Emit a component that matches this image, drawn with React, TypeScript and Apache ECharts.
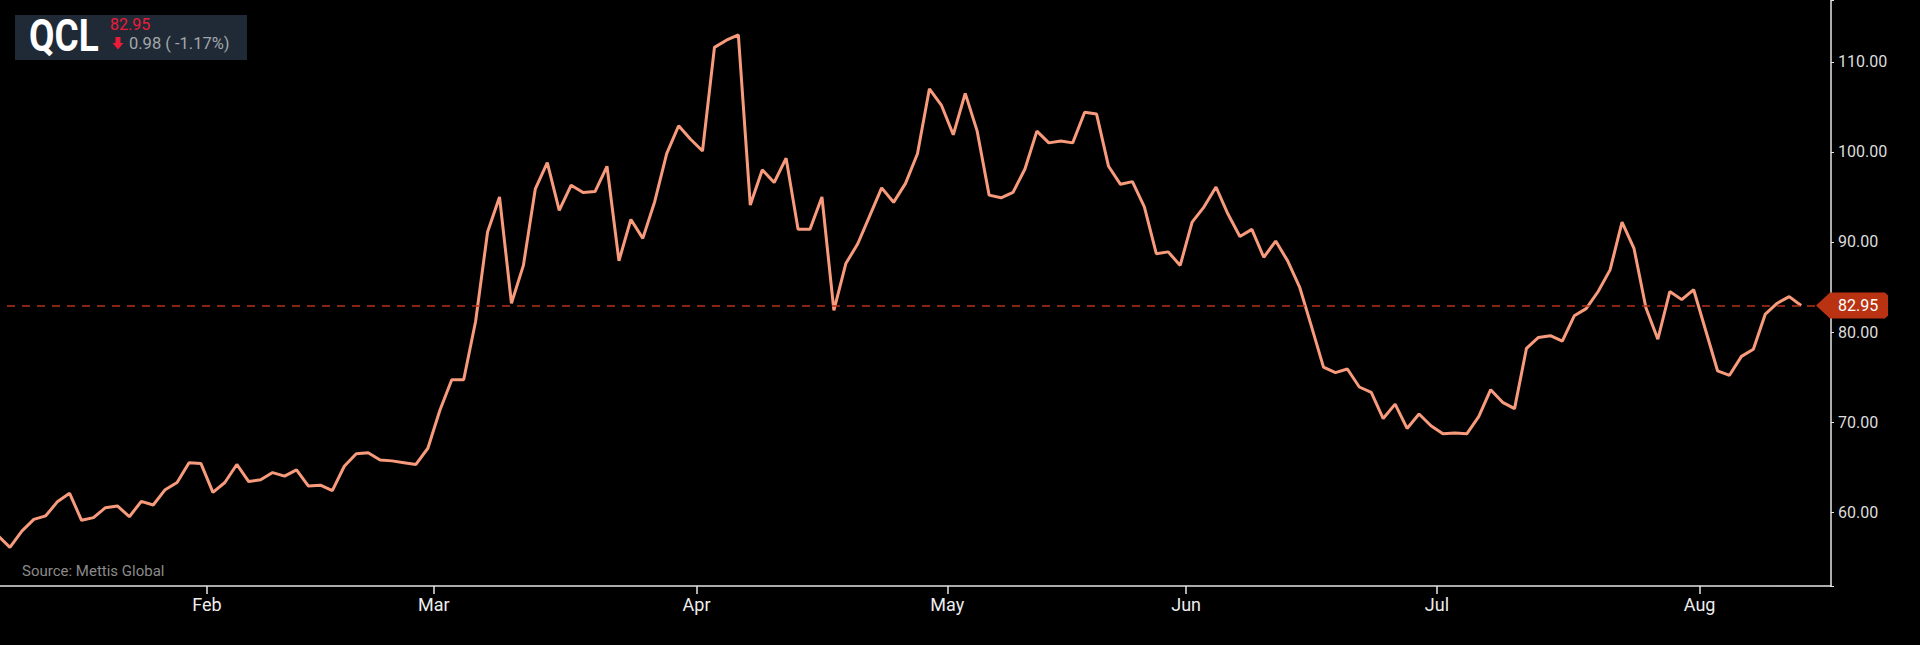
import React, { useEffect, useRef } from 'react';
import * as echarts from 'echarts';

// Trading days per month (the last two August days are empty padding on the right)
const TRADING_DAYS: [string, number[]][] = [
  ['2021-01', [6, 7, 8, 11, 12, 13, 14, 15, 18, 19, 20, 21, 22, 25, 26, 27, 28, 29]],
  ['2021-02', [1, 2, 3, 4, 5, 8, 9, 10, 11, 12, 16, 17, 18, 19, 22, 23, 24, 25, 26]],
  ['2021-03', [1, 2, 3, 4, 5, 8, 9, 10, 11, 12, 15, 16, 17, 18, 19, 22, 24, 25, 26, 29, 30, 31]],
  ['2021-04', [1, 5, 6, 7, 8, 9, 12, 13, 14, 15, 16, 19, 20, 21, 22, 23, 26, 27, 28, 29, 30]],
  ['2021-05', [3, 4, 5, 6, 7, 10, 11, 12, 13, 14, 17, 18, 19, 20, 21, 24, 25, 26, 27, 28]],
  ['2021-06', [1, 2, 3, 4, 7, 8, 9, 10, 11, 14, 15, 16, 17, 21, 22, 23, 24, 25, 28, 29, 30]],
  ['2021-07', [1, 2, 5, 6, 7, 8, 9, 12, 13, 14, 15, 16, 19, 20, 21, 22, 23, 26, 27, 28, 29, 30]],
  ['2021-08', [2, 3, 4, 5, 6, 9, 10, 11, 12, 13, 16]],
];

const MONTH_NAMES = ['Jan', 'Feb', 'Mar', 'Apr', 'May', 'Jun', 'Jul', 'Aug', 'Sep', 'Oct', 'Nov', 'Dec'];

const PRICES_JAN = [57.4, 56.1, 57.9, 59.2, 59.6, 61.2, 62.1, 59.1, 59.4, 60.5, 60.7, 59.5, 61.2, 60.8, 62.5, 63.3, 65.5, 65.4];
const PRICES_FEB = [62.2, 63.3, 65.3, 63.4, 63.6, 64.4, 64.0, 64.7, 62.9, 63.0, 62.4, 65.1, 66.5, 66.6, 65.8, 65.7, 65.5, 65.3, 67.1];
const PRICES_MAR = [71.3, 74.7, 74.7, 81.2, 91.1, 95.0, 83.2, 87.4, 95.9, 98.8, 93.5, 96.3, 95.5, 95.6, 98.4, 87.9, 92.5, 90.4, 94.5, 99.8, 102.9, 101.4];
const PRICES_APR = [100.1, 111.6, 112.4, 113.0, 94.1, 98.0, 96.6, 99.3, 91.4, 91.4, 95.0, 82.4, 87.6, 89.8, 92.9, 96.0, 94.4, 96.5, 99.8, 107.0, 105.2];
const PRICES_MAY = [101.9, 106.5, 102.3, 95.2, 94.9, 95.5, 98.1, 102.3, 101.0, 101.2, 101.0, 104.4, 104.2, 98.4, 96.4, 96.7, 93.9, 88.7, 88.9, 87.4];
const PRICES_JUN = [92.2, 93.9, 96.1, 93.1, 90.6, 91.4, 88.3, 90.1, 87.9, 85.0, 80.6, 76.1, 75.5, 75.9, 73.9, 73.3, 70.4, 72.0, 69.3, 70.9, 69.6];
const PRICES_JUL = [68.7, 68.8, 68.7, 70.6, 73.6, 72.2, 71.5, 78.2, 79.4, 79.6, 79.0, 81.8, 82.6, 84.5, 86.9, 92.2, 89.3, 82.7, 79.2, 84.5, 83.6, 84.7];
const PRICES_AUG = [80.2, 75.7, 75.2, 77.3, 78.1, 82.0, 83.2, 83.93, 82.95];

const SYMBOL = 'QCL';
const LAST_PRICE = 82.95;
const CHANGE_TEXT = '0.98 ( -1.17%)';
const SOURCE_TEXT = 'Source: Mettis Global';

const pad2 = (n: number) => (n < 10 ? '0' + n : '' + n);

export default function App() {
  const ref = useRef<HTMLDivElement>(null);

  useEffect(() => {
    document.body.style.margin = '0';
    document.body.style.background = '#000';
    if (!ref.current) return;
    const chart = echarts.init(ref.current, null, { renderer: 'svg' });

    const categories: string[] = [];
    TRADING_DAYS.forEach(([m, days]) => days.forEach((d) => categories.push(m + '-' + pad2(d))));
    const prices: (number | null)[] = [
      ...PRICES_JAN, ...PRICES_FEB, ...PRICES_MAR, ...PRICES_APR,
      ...PRICES_MAY, ...PRICES_JUN, ...PRICES_JUL, ...PRICES_AUG,
    ];
    while (prices.length < categories.length) prices.push(null);

    const isMonthStart = (idx: number) =>
      idx > 0 && categories[idx].slice(0, 7) !== categories[idx - 1].slice(0, 7);

    const font = 'Roboto, "Noto Sans", sans-serif';

    chart.setOption({
      animation: false,
      backgroundColor: '#000000',
      grid: {
        left: -8,
        right: 89,
        top: 0,
        bottom: 59,
        containLabel: false,
        outerBoundsMode: 'none',
      },
      xAxis: {
        type: 'category',
        data: categories,
        boundaryGap: true,
        axisLine: { show: true, lineStyle: { color: '#e6e6e6', width: 1.5 } },
        axisTick: {
          show: true,
          interval: (i: number) => isMonthStart(i),
          length: 8,
          lineStyle: { color: '#e6e6e6', width: 1.5 },
        },
        axisLabel: {
          interval: (i: number) => isMonthStart(i),
          formatter: (v: string) => MONTH_NAMES[parseInt(v.slice(5, 7), 10) - 1],
          color: '#eeeeee',
          fontSize: 18,
          fontFamily: font,
          margin: 9,
          padding: [0, 12, 0, 0],
        },
        splitLine: { show: false },
      },
      yAxis: {
        type: 'value',
        position: 'right',
        min: 51.81,
        max: 116.86,
        splitNumber: 5,
        axisLine: { show: true, lineStyle: { color: '#e6e6e6', width: 1.5 } },
        axisTick: { show: true, length: 3, lineStyle: { color: '#e6e6e6', width: 1 } },
        axisLabel: {
          color: '#dddddd',
          fontSize: 16,
          fontFamily: font,
          margin: 7,
          formatter: (v: number) =>
            Math.abs(v - Math.round(v / 10) * 10) < 1e-6 ? v.toFixed(2) : '',
        },
        splitLine: { show: false },
      },
      series: [
        {
          type: 'line',
          data: prices,
          showSymbol: false,
          symbol: 'none',
          connectNulls: false,
          clip: true,
          lineStyle: { color: '#F89A7C', width: 3 },
          itemStyle: { color: '#F89A7C' },
          markLine: {
            silent: true,
            symbol: ['none', 'none'],
            label: { show: false },
            lineStyle: { color: '#B4301A', type: [8, 7], width: 1.5 },
            data: [{ yAxis: LAST_PRICE }],
          },
        },
      ],
    });

    const yTag = chart.convertToPixel({ yAxisIndex: 0 }, LAST_PRICE) as number;
    const tagColor = '#B93313';

    chart.setOption({
      graphic: [
        // hide the closing corner ticks that the axes add at their ends
        {
          type: 'rect',
          shape: { x: 1832, y: 578, width: 8, height: 7 },
          style: { fill: '#000000' },
          z: 100,
          zlevel: 1,
        },
        {
          type: 'rect',
          shape: { x: 1822, y: 587, width: 24, height: 12 },
          style: { fill: '#000000' },
          z: 100,
          zlevel: 1,
        },
        {
          type: 'rect',
          shape: { x: 15, y: 15, width: 232, height: 45 },
          style: { fill: '#1f2a36' },
          z: 10,
        },
        {
          type: 'text',
          x: 29,
          y: 36,
          scaleX: 0.84,
          style: {
            text: SYMBOL,
            fill: '#ffffff',
            font: 'bold 44px Roboto, sans-serif',
            textAlign: 'left',
            textVerticalAlign: 'middle',
          },
          z: 11,
        },
        {
          type: 'text',
          x: 110,
          y: 24,
          style: {
            text: LAST_PRICE.toFixed(2),
            fill: '#ED1B3A',
            font: '16px Roboto, sans-serif',
            textAlign: 'left',
            textVerticalAlign: 'middle',
          },
          z: 11,
        },
        {
          type: 'polygon',
          shape: {
            points: [
              [115.5, 37], [120.5, 37], [120.5, 43], [123.5, 43],
              [118, 49.5], [112.5, 43], [115.5, 43],
            ],
          },
          style: { fill: '#ED1B3A' },
          z: 11,
        },
        {
          type: 'text',
          x: 129,
          y: 43.5,
          style: {
            text: CHANGE_TEXT,
            fill: '#a3a7ab',
            font: '16.5px Roboto, sans-serif',
            textAlign: 'left',
            textVerticalAlign: 'middle',
          },
          z: 11,
        },
        {
          type: 'text',
          x: 22,
          y: 571,
          style: {
            text: SOURCE_TEXT,
            fill: '#8a8a8a',
            font: '15px Roboto, sans-serif',
            textAlign: 'left',
            textVerticalAlign: 'middle',
          },
          z: 11,
        },
        {
          type: 'polygon',
          shape: {
            points: [
              [1816, yTag], [1830, yTag - 13], [1885, yTag - 13],
              [1888, yTag - 10], [1888, yTag + 10], [1885, yTag + 13], [1830, yTag + 13],
            ],
          },
          style: { fill: tagColor },
          z: 20,
        },
        {
          type: 'text',
          x: 1838,
          y: yTag,
          style: {
            text: LAST_PRICE.toFixed(2),
            fill: '#ffffff',
            font: '16px Roboto, sans-serif',
            textAlign: 'left',
            textVerticalAlign: 'middle',
          },
          z: 21,
        },
      ],
    });

    return () => {
      chart.dispose();
    };
  }, []);

  return <div ref={ref} style={{ width: 1920, height: 645 }} />;
}
